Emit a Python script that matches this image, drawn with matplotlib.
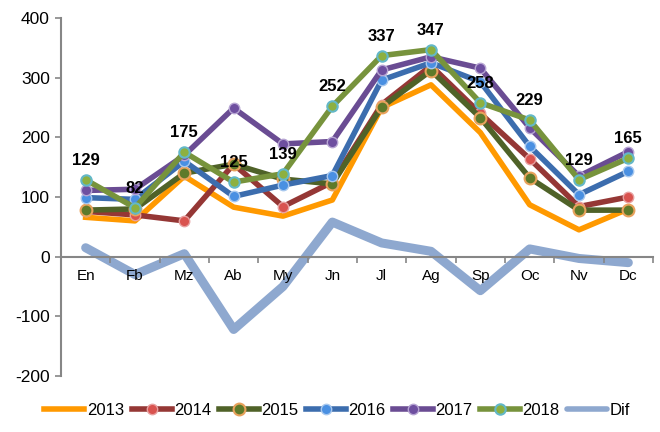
import matplotlib
matplotlib.use("Agg")
import matplotlib.pyplot as plt
import numpy as np

plt.rcParams['font.family'] = ['Liberation Sans', 'DejaVu Sans']
plt.rcParams['axes.unicode_minus'] = False

months = ["En", "Fb", "Mz", "Ab", "My", "Jn", "Jl", "Ag", "Sp", "Oc", "Nv", "Dc"]
s2013 = [66, 60, 135, 83, 68, 95, 250, 288, 208, 87, 45, 80]
s2014 = [76, 70, 60, 155, 84, 125, 255, 320, 240, 164, 84, 100]
s2015 = [78, 80, 140, 155, 130, 122, 251, 312, 233, 132, 78, 78]
s2016 = [99, 96, 160, 101, 120, 136, 296, 325, 293, 185, 104, 143]
s2017 = [111, 113, 170, 249, 189, 193, 313, 335, 316, 216, 135, 176]
s2018 = [129, 82, 175, 125, 139, 252, 337, 347, 258, 229, 129, 165]
dif = [15, -30, 5, -122, -50, 58, 23, 9, -57, 13, -3, -10]

fig = plt.figure(figsize=(6.6, 4.32), dpi=100)
ax = fig.add_axes([0.0924, 0.1296, 0.897, 0.8287])

x = np.arange(len(months))
lw = 4.0
ms = 7.5
ax.plot(x, s2013, color='#FF9900', lw=lw, label='2013', zorder=2)
ax.plot(x, s2014, color='#953735', lw=lw, label='2014', marker='o', ms=ms,
        mfc='#D9534F', mec='#E8A0A0', mew=1.0, zorder=3)
ax.plot(x, s2015, color='#4F6228', lw=lw, label='2015', marker='o', ms=ms + 1,
        mfc='#5E7A2A', mec='#E8A25C', mew=1.5, zorder=4)
ax.plot(x, s2016, color='#3C6DAE', lw=lw, label='2016', marker='o', ms=ms,
        mfc='#4A90E2', mec='#A8C8EE', mew=1.0, zorder=5)
ax.plot(x, s2017, color='#6A4C93', lw=lw, label='2017', marker='o', ms=ms,
        mfc='#6E4FA0', mec='#B7A5D3', mew=1.0, zorder=6)
ax.plot(x, s2018, color='#77933C', lw=lw, label='2018', marker='o', ms=ms,
        mfc='#8DB040', mec='#63B8C8', mew=1.5, zorder=7)
ax.plot(x, dif, color='#8EA8CF', lw=6.5, label='Dif', solid_capstyle='round', zorder=1)

for xi, v in zip(x, s2018):
    ax.annotate(str(v), (xi, v), xytext=(0, 14), textcoords='offset points',
                ha='center', va='center', fontsize=12, fontweight='bold',
                color='black', zorder=10)

ax.set_xlim(-0.5, 11.5)
ax.set_ylim(-200, 400)
ax.set_yticks([-200, -100, 0, 100, 200, 300, 400])
ax.tick_params(axis='y', labelsize=12.5, color='#868686', length=4, width=1.2, pad=4)

ax.spines['top'].set_visible(False)
ax.spines['right'].set_visible(False)
ax.spines['bottom'].set_position(('data', 0))
for s in ('left', 'bottom'):
    ax.spines[s].set_color('#868686')
    ax.spines[s].set_linewidth(1.5)

ax.set_xticks(x)
ax.set_xticklabels(months)
ax.set_xticks(np.arange(-0.5, 12, 1), minor=True)
ax.tick_params(axis='x', which='major', length=0, labelsize=11, pad=9)
ax.tick_params(axis='x', which='minor', length=4, color='#868686', width=1.2, direction='out')
for lab in ax.get_xticklabels():
    lab.set_zorder(12)

leg = fig.legend(loc='center', bbox_to_anchor=(0.511, 0.05), ncol=7, frameon=False,
                 fontsize=12, handlelength=2.4, handletextpad=0.15, columnspacing=0.45)
for line in leg.get_lines():
    line.set_linewidth(4.0)

fig.savefig('out.png', dpi=100)
